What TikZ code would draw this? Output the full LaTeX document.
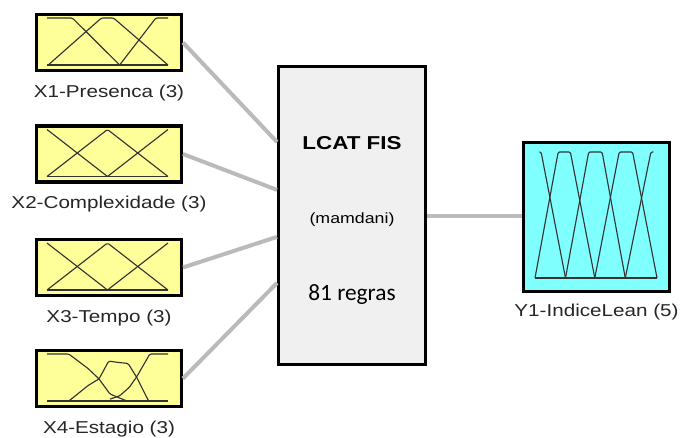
\documentclass[tikz,border=0pt]{standalone}
\usepackage{fontspec}
\setmainfont[FakeStretch=1.2]{Liberation Sans}
\newfontfamily\rulefont{Carlito}
\usetikzlibrary{calc,positioning}
\definecolor{inyellow}{RGB}{255,255,153}
\definecolor{outcyan}{RGB}{128,255,255}
\definecolor{fisgray}{RGB}{240,240,240}
\definecolor{linkgray}{RGB}{186,186,186}
\tikzset{
  inbox/.style={draw=black, line width=2.4pt, fill=inyellow,
                minimum width=108.5pt, minimum height=41.9pt, inner sep=0pt},
  outbox/.style={draw=black, line width=2.4pt, fill=outcyan,
                 minimum width=109.4pt, minimum height=111.6pt, inner sep=0pt},
  fisbox/.style={draw=black, line width=2.4pt, fill=fisgray,
                 minimum width=110.1pt, minimum height=223.4pt, inner sep=0pt},
  link/.style={draw=linkgray, line width=3pt},
  mf/.style={draw=black!80, line width=0.85pt, line join=round,
             rounded corners=1pt},
  lab/.style={font=\fontsize{12.9}{15}\selectfont, text=black!85},
  mfin/.style={shift={(#1.center)}, shift={(-62,22.5)},
               x=90.75pt, y=35.25pt},
  mfout/.style={shift={(#1.center)}, shift={(-61.5,61)},
                x=91.5pt, y=94.5pt},
}
\begin{document}
\begin{tikzpicture}[x=0.75pt,y=-0.75pt]
  \path[use as bounding box] (0,0) rectangle (680,437);

  \node[inbox] (X1) at (109,42.5) {};
  \node[inbox] (X2) at (109,154) {};
  \node[inbox] (X3) at (109,267.5) {};
  \node[inbox] (X4) at (109,378.5) {};
  \node[lab, below=6pt of X1] (X1lab) {X1-Presenca (3)};
  \node[lab, below=6pt of X2] (X2lab) {X2-Complexidade (3)};
  \node[lab, below=6pt of X3] (X3lab) {X3-Tempo (3)};
  \node[lab, below=6pt of X4] (X4lab) {X4-Estagio (3)};

  \node[fisbox] (FIS) at (352,215.5) {};
  \node[font=\fontsize{14}{16}\selectfont\bfseries] (fisname) at (352,143)
    {LCAT FIS};
  \node[font=\fontsize{11.1}{13}\selectfont] (fistype) at (352,220)
    {(mamdani)};
  \node[font=\rulefont\fontsize{17.5}{20}\selectfont] (fisrules) at (352,295)
    {81 regras};

  \node[outbox] (Y1) at (596.5,217) {};
  \node[lab, below=4.5pt of Y1] (Y1lab) {Y1-IndiceLean (5)};

  \coordinate (F1) at ($(FIS.north west)!0.256!(FIS.south west)$);
  \coordinate (F2) at ($(FIS.north west)!0.415!(FIS.south west)$);
  \coordinate (F3) at ($(FIS.north west)!0.571!(FIS.south west)$);
  \coordinate (F4) at ($(FIS.north west)!0.724!(FIS.south west)$);
  \draw[link] (X1.east) -- (F1);
  \draw[link] (X2.east) -- (F2);
  \draw[link] (X3.east) -- (F3);
  \draw[link] (X4.east) -- (F4);
  \draw[link] (FIS.east) -- (FIS.east -| Y1.west);

  \begin{scope}[mfin=X1]
    \draw[mf] (0,0) -- (1,0);
    \draw[mf] (0,1) -- (0.21,1) -- (0.6,0);
    \draw[mf] (0.01,0) -- (0.45,1) -- (0.55,1) -- (1,0);
    \draw[mf] (0.6,0) -- (0.9,1) -- (1,1);
  \end{scope}
  \begin{scope}[mfin=X2]
    \draw[mf] (0,0) -- (1,0);
    \draw[mf] (0,1) -- (0.5,0);
    \draw[mf] (0,0) -- (0.5,1) -- (1,0);
    \draw[mf] (0.5,0) -- (1,1);
  \end{scope}
  \begin{scope}[mfin=X3]
    \draw[mf] (0,0) -- (1,0);
    \draw[mf] (0,1) -- (0.5,0);
    \draw[mf] (0,0) -- (0.5,1) -- (1,0);
    \draw[mf] (0.5,0) -- (1,1);
  \end{scope}
  \begin{scope}[mfin=X4]
    \draw[mf] (0,0) -- (1,0);
    \draw[mf] (0,1) -- (0.18,1) -- (0.34,0.69) -- (0.43,0.47)
      -- (0.52,0.15) -- (0.66,0);
    \draw[mf] (0.18,0) -- (0.34,0.33) -- (0.43,0.47) -- (0.51,0.85)
      -- (0.59,0.82) -- (0.67,0.8) -- (0.74,0.51) -- (0.84,0);
    \draw[mf] (0.52,0.04) -- (0.6,0.11) -- (0.68,0.29) -- (0.74,0.51)
      -- (0.85,1) -- (1,1);
  \end{scope}

  \begin{scope}[mfout=Y1]
    \draw[mf] (0,0) -- (1,0);
    \draw[mf] (0.035,1) -- (0.05,1) -- (0.25,0);
    \draw[mf] (0,0) -- (0.19,1) -- (0.29,1) -- (0.49,0);
    \draw[mf] (0.25,0) -- (0.44,1) -- (0.55,1) -- (0.74,0);
    \draw[mf] (0.49,0) -- (0.69,1) -- (0.8,1) -- (1,0);
    \draw[mf] (0.74,0) -- (0.95,1) -- (0.97,1);
  \end{scope}
\end{tikzpicture}
\end{document}
